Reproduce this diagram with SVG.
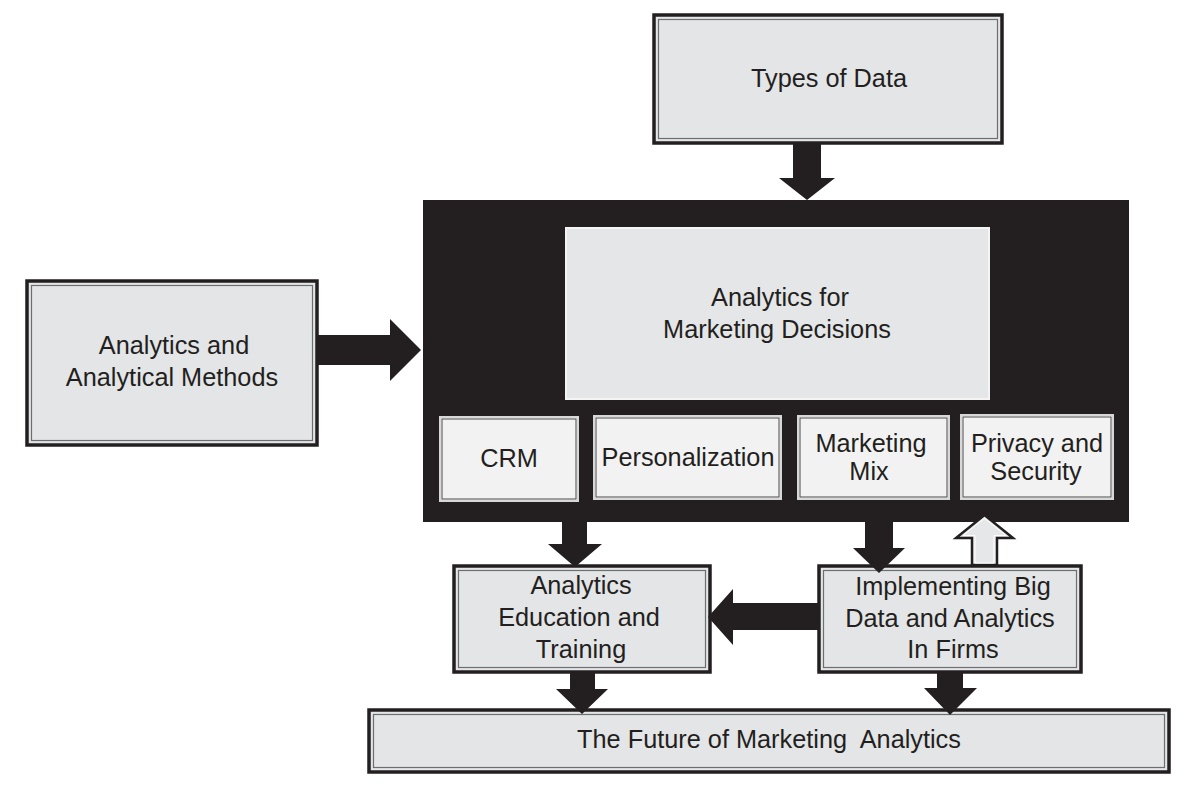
<svg xmlns="http://www.w3.org/2000/svg" width="1186" height="787" viewBox="0 0 1186 787">
<defs>
<style>
.outer{fill:#e4e5e7;stroke:#231f20;stroke-width:3.5}
.inner{fill:none;stroke:#6d6e70;stroke-width:1.2}
.sub{fill:#f2f2f2;stroke:#d8d8d8;stroke-width:2}
.subin{fill:none;stroke:#4a4a4a;stroke-width:1}
.t{font-family:"Liberation Sans",Arial,sans-serif;font-size:25.3px;fill:#231f20;text-anchor:middle;white-space:pre}
.arr{fill:#231f20}
.hollow{fill:#e6e7e8;stroke:#231f20;stroke-width:2.5;stroke-linejoin:miter}
</style>
</defs>
<rect width="1186" height="787" fill="#ffffff"/>
<g id="types">
<rect class="outer" x="654" y="15" width="348" height="128"/>
<rect class="inner" x="658.5" y="19.5" width="339" height="119"/>
<text class="t" x="829" y="87">Types of Data</text>
</g>
<g id="main">
<rect x="423" y="200" width="706" height="322" fill="#231f20"/>
<rect x="566" y="228" width="423" height="171" fill="#e5e6e8" stroke="#f4f4f4" stroke-width="2"/>
<text class="t" x="780" y="306">Analytics for</text>
<text class="t" x="777" y="338">Marketing Decisions</text>
</g>
<g id="methods">
<rect class="outer" x="27" y="281" width="290" height="164"/>
<rect class="inner" x="31.5" y="285.5" width="281" height="155"/>
<text class="t" x="174" y="354">Analytics and</text>
<text class="t" x="172" y="386">Analytical Methods</text>
</g>
<g id="crm">
<rect class="sub" x="440" y="417" width="138" height="84"/>
<rect class="subin" x="442" y="419" width="134" height="80"/>
<text class="t" x="509" y="467">CRM</text>
</g>
<g id="personalization">
<rect class="sub" x="594" y="416" width="187" height="83"/>
<rect class="subin" x="596" y="418" width="183" height="79"/>
<text class="t" x="688" y="466">Personalization</text>
</g>
<g id="mix">
<rect class="sub" x="798" y="416" width="151" height="83"/>
<rect class="subin" x="800" y="418" width="147" height="79"/>
<text class="t" x="871" y="452">Marketing</text>
<text class="t" x="869" y="480">Mix</text>
</g>
<g id="privacy">
<rect class="sub" x="961" y="415" width="152" height="84"/>
<rect class="subin" x="963" y="417" width="148" height="80"/>
<text class="t" x="1037" y="452">Privacy and</text>
<text class="t" x="1036" y="480">Security</text>
</g>
<g id="education">
<rect class="outer" x="454" y="566" width="256" height="106"/>
<rect class="inner" x="458.5" y="570.5" width="247" height="97"/>
<text class="t" x="581" y="594">Analytics</text>
<text class="t" x="579" y="626">Education and</text>
<text class="t" x="581" y="658">Training</text>
</g>
<g id="implementing">
<rect class="outer" x="819" y="566" width="262" height="106"/>
<rect class="inner" x="823.5" y="570.5" width="253" height="97"/>
<text class="t" x="953" y="595">Implementing Big</text>
<text class="t" x="950" y="627">Data and Analytics</text>
<text class="t" x="953" y="658">In Firms</text>
</g>
<g id="future">
<rect class="outer" x="369" y="710" width="800" height="62"/>
<rect class="inner" x="373.5" y="714.5" width="791" height="53"/>
<text class="t" x="769" y="748" xml:space="preserve">The Future of Marketing  Analytics</text>
</g>
<g id="connectors">
<polygon class="arr" points="793,143 821,143 821,178 835,178 807,200 779,178 793,178"/>
<polygon class="arr" points="317,335 390,335 390,319 421,350 390,381 390,365 317,365"/>
<polygon class="arr" points="562,521 587,521 587,544 602,544 575,567 548,544 562,544"/>
<polygon class="arr" points="865,521 893,521 893,548 905,548 879,573 853,548 865,548"/>
<polygon class="arr" points="820,603 733,603 733,589 708,617 733,645 733,630 820,630"/>
<polygon class="arr" points="570,672 595,672 595,689 608,689 582,714 556,689 570,689"/>
<polygon class="arr" points="937,672 963,672 963,688 977,688 950,715 924,688 937,688"/>
<polygon class="hollow" points="972,565 997,565 997,538 1013,538 984.5,515 956,538 972,538"/>
<polygon points="975,563 994,563 994,535.5 1006,535.5 984.5,518.5 963,535.5 975,535.5" fill="none" stroke="#ffffff" stroke-width="1"/>
</g>
</svg>
